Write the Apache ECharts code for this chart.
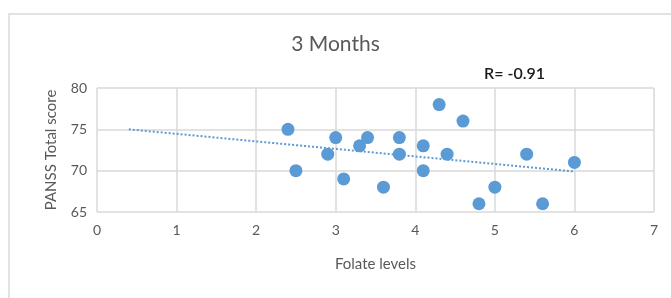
<!DOCTYPE html>
<html>
<head>
<meta charset="utf-8">
<script src="https://cdn.jsdelivr.net/npm/echarts@6/dist/echarts.min.js"></script>
<style>
  html, body { margin: 0; padding: 0; background: #fff; }
  #chart { width: 671px; height: 298px; }
</style>
</head>
<body>
<div id="chart"></div>
<script>
// folate vs PANSS
var folate = [2.4, 2.5, 2.9, 3.0, 3.1, 3.3, 3.4, 3.6, 3.8, 3.8, 4.1, 4.1, 4.3, 4.4, 4.6, 4.8, 5.0, 5.4, 5.6, 6.0];
var panss  = [75, 70, 72, 74, 69, 73, 74, 68, 74, 72, 73, 70, 78, 72, 76, 66, 68, 72, 66, 71];
var trendX = [0.4, 6.0];
var trendY = [75.0, 69.9];
var xTicks = [0, 1, 2, 3, 4, 5, 6, 7];
var yTicks = [65, 70, 75, 80];

var chart = echarts.init(document.getElementById('chart'));
var points = folate.map(function (x, i) { return [x, panss[i]]; });
var trend = trendX.map(function (x, i) { return [x, trendY[i]]; });
var font = 'Lato, "Open Sans", sans-serif';

var option = {
  backgroundColor: '#fff',
  animation: false,
  textStyle: { fontFamily: font },
  graphic: [{
    type: 'rect',
    shape: { x: 9, y: 14, width: 680, height: 300 },
    style: { fill: 'none', stroke: '#d9d9d9', lineWidth: 1.5 },
    silent: true
  }, {
    type: 'text',
    left: 484, top: 66,
    style: { text: 'R= -0.91', fill: '#1a1a1a', font: '600 16px ' + font }
  }],
  title: {
    text: '3 Months',
    left: 'center',
    top: 29,
    textStyle: { fontSize: 21, fontWeight: 'normal', color: '#595959', fontFamily: font }
  },
  grid: { left: 97, right: 17, top: 88, bottom: 86 },
  xAxis: {
    type: 'value',
    min: xTicks[0], max: xTicks[xTicks.length - 1], interval: 1,
    name: 'Folate levels',
    nameLocation: 'middle',
    nameGap: 45,
    nameTextStyle: { fontSize: 15, color: '#595959' },
    axisLine: { show: false },
    axisTick: { show: false },
    axisLabel: { fontSize: 14, color: '#595959', margin: 11 },
    splitLine: { lineStyle: { color: '#d9d9d9', width: 1.5 } }
  },
  yAxis: {
    type: 'value',
    min: yTicks[0], max: yTicks[yTicks.length - 1], interval: 5,
    name: 'PANSS Total score',
    nameLocation: 'middle',
    nameGap: 38,
    nameTextStyle: { fontSize: 15, color: '#595959' },
    axisLine: { show: false },
    axisTick: { show: false },
    axisLabel: { fontSize: 14, color: '#595959', margin: 10 },
    splitLine: { lineStyle: { color: '#d9d9d9', width: 1.5 } }
  },
  series: [{
    type: 'line',
    data: trend,
    symbol: 'none',
    lineStyle: { color: '#5b9bd5', width: 2, type: [2, 2] },
    z: 1
  }, {
    type: 'scatter',
    data: points,
    symbolSize: 13,
    itemStyle: { color: '#5b9bd5', opacity: 1 },
    z: 2
  }]
};

chart.setOption(option);
</script>
</body>
</html>
